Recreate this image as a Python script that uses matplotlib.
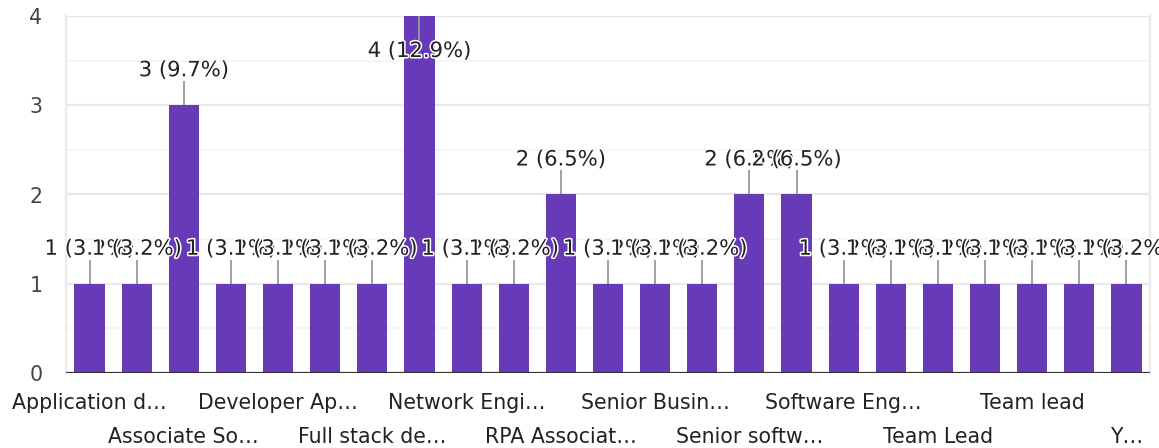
"""
직무별 응답 수 막대그래프 (Google Forms 스타일) 재현.
"""
import numpy as np
import matplotlib
matplotlib.use("Agg")
import matplotlib.pyplot as plt
import matplotlib.patheffects as pe
import matplotlib.transforms as mtransforms

# 응답 데이터 (알파벳 순)
CATEGORIES = [
    "Application developer", "Associate Software Developer",
    "Associate Software Engineer", "Data Analyst",
    "Developer Application Support", "Devops Engineer",
    "Full stack developer", "IT Analyst", "Network Engineer",
    "Project Engineer", "RPA Associate", "Senior Analyst",
    "Senior Business Analyst", "Senior Software Developer",
    "Senior software engineer", "Software Developer", "Software Engineer",
    "System Engineer", "Team Lead", "Team Leader", "Team lead",
    "Technical Lead", "Young Professional",
]
COUNTS = [1, 1, 3, 1, 1, 1, 1, 4, 1, 1, 2, 1, 1, 1, 2, 2, 1, 1, 1, 1, 1, 1, 1]

# 화면에 보이는 축 라벨 (짝수 번째만, 두 줄로 번갈아)
TICK_IDX = [0, 2, 4, 6, 8, 10, 12, 14, 16, 18, 20, 22]
TICK_LABELS = [
    "Application d…", "Associate So…", "Developer Ap…", "Full stack de…",
    "Network Engi…", "RPA Associat…", "Senior Busin…", "Senior softw…",
    "Software Eng…", "Team Lead", "Team lead", "Y…",
]

BAR_COLOR = "#673ab7"
FS = 15.2      # 값 라벨
FS_TICK = 14.8  # 축 라벨

plt.rcParams["font.family"] = ["DejaVu Sans"]

W, H, DPI = 1159, 448, 100
fig = plt.figure(figsize=(W / DPI, H / DPI), dpi=DPI)
ax = fig.add_axes([66 / W, (H - 373) / H, (1150 - 66) / W, (373 - 16) / H])

x = np.arange(len(COUNTS))
total = sum(COUNTS)
ax.bar(x, COUNTS, width=0.64, color=BAR_COLOR, zorder=2)

ax.set_xlim(-0.5, len(COUNTS) - 0.5)
ax.set_ylim(0, 4)

# 격자
for yv in np.arange(0.5, 4.0, 1.0):
    ax.axhline(yv, color="#f3f3f3", lw=1.2, zorder=0)
for yv in [1, 2, 3, 4]:
    ax.axhline(yv, color="#e8e8e8", lw=1.6, zorder=0)
ax.axhline(0, color="#333333", lw=1.6, zorder=3)

for s in ["top", "bottom"]:
    ax.spines[s].set_visible(False)
for s in ["left", "right"]:
    ax.spines[s].set_color("#ebebeb")
    ax.spines[s].set_linewidth(1.6)

ax.set_yticks([0, 1, 2, 3, 4])
ax.set_yticklabels(["0", "1", "2", "3", "4"], fontsize=FS_TICK, color="#444444")
ax.tick_params(axis="y", length=0, pad=17)
ax.set_xticks([])

# x 라벨 두 줄
trans = mtransforms.blended_transform_factory(ax.transData, ax.transAxes)
ax_h_px = 373 - 16
for k, (i, lab) in enumerate(zip(TICK_IDX, TICK_LABELS)):
    off = 36 if k % 2 == 0 else 70
    ax.text(i, -off / ax_h_px, lab, transform=trans, ha="center",
            va="baseline", fontsize=FS_TICK, color="#222222")

# 값 라벨 + 연결선
unit_per_px = 4 / ax_h_px
stem = 24 * unit_per_px
gap = 35 * unit_per_px
for i, v in enumerate(COUNTS):
    pct = v / total * 100
    label = f"{v} ({pct:.1f}%)"
    if v + gap + 0.12 > 4:
        y0, y1, yt = v, v - stem, v - gap
    else:
        y0, y1, yt = v, v + stem, v + gap
    ax.plot([i, i], [y0, y1], color="#999999", lw=1.3, zorder=3,
            solid_capstyle="butt")
    ax.text(i, yt, label, ha="center", va="center", fontsize=FS,
            color="#222222", zorder=5 + i,
            path_effects=[pe.withStroke(linewidth=2.2, foreground="white")])

fig.savefig("out.png", dpi=DPI)
